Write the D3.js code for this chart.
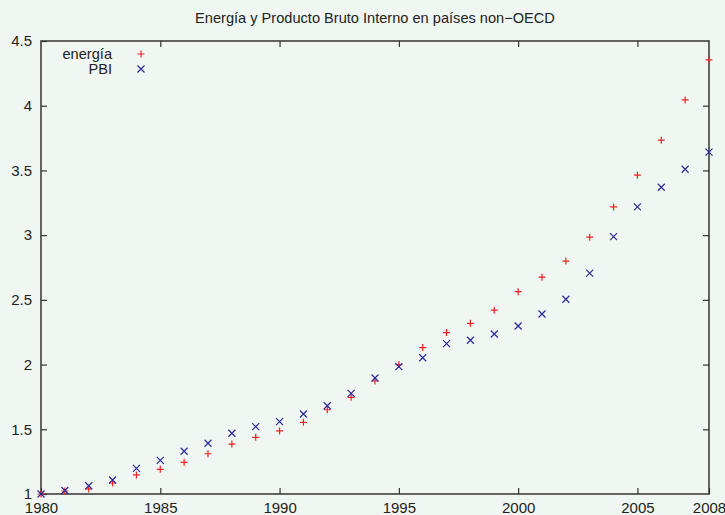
<!DOCTYPE html>
<html>
<head>
<meta charset="utf-8">
<script src="https://cdn.jsdelivr.net/npm/d3@7"></script>
<style>
	body { margin: 0; background: #f0f7f2; }
	svg text { font-family: "Liberation Sans", Arial, sans-serif; fill: #222; }
</style>
</head>
<body>
<svg id="viz"></svg>
<script>
/* data */
var years = d3.range(1980, 2009);
var energia = [1.0, 1.023, 1.039, 1.085, 1.147, 1.191, 1.245, 1.311, 1.386, 1.438,
	1.487, 1.554, 1.651, 1.747, 1.873, 2.0, 2.131, 2.247, 2.319, 2.42,
	2.563, 2.675, 2.80, 2.984, 3.218, 3.463, 3.734, 4.045, 4.354];
var pbi = [1.0, 1.027, 1.064, 1.108, 1.198, 1.26, 1.33, 1.392, 1.469, 1.52,
	1.559, 1.618, 1.682, 1.778, 1.896, 1.984, 2.053, 2.162, 2.188, 2.236,
	2.298, 2.391, 2.505, 2.706, 2.988, 3.218, 3.37, 3.509, 3.641];
var xTicks = [1980, 1985, 1990, 1995, 2000, 2005, 2008];
var yTicks = [1, 1.5, 2, 2.5, 3, 3.5, 4, 4.5];

/* create svg */
var W = 725, H = 515;
var margin = { top: 41, right: 16, bottom: 21, left: 41 },
	width = W - margin.left - margin.right,
	height = H - margin.top - margin.bottom;

var svg = d3.select('#viz')
	.attr('width', W)
	.attr('height', H);

svg.append('rect')
	.attr('width', W).attr('height', H)
	.attr('fill', '#f0f7f2');

var g = svg.append('g')
	.attr('transform', 'translate(' + margin.left + ',' + margin.top + ')');

var x = d3.scaleLinear()
	.domain([1980, 2008])
	.range([0, width]);

var y = d3.scaleLinear()
	.domain([1, 4.5])
	.range([height, 0]);

var tickLen = 6;

// bottom axis with labels, ticks drawn inward
var xAxis = d3.axisBottom(x)
	.tickValues(xTicks)
	.tickFormat(d3.format('d'))
	.tickSizeInner(-tickLen)
	.tickSizeOuter(0)
	.tickPadding(8);

var yAxis = d3.axisLeft(y)
	.tickValues(yTicks)
	.tickFormat(function(d){ return d3.format('')(d); })
	.tickSizeInner(-tickLen)
	.tickSizeOuter(0)
	.tickPadding(9);

var styleAxis = function(sel){
	sel.select('.domain').remove();
	sel.selectAll('.tick line').attr('stroke', '#333').attr('stroke-width', 1.2);
	sel.selectAll('.tick text')
		.attr('font-size', 15)
		.attr('font-family', '"Liberation Sans", Arial, sans-serif')
		.attr('fill', '#222');
}

g.append('g')
	.attr('transform', 'translate(0,' + height + ')')
	.call(xAxis)
	.call(styleAxis);

g.append('g')
	.call(yAxis)
	.call(styleAxis);

// mirrored ticks on top and right, no labels
g.append('g')
	.call(d3.axisTop(x).tickValues(xTicks.slice(1, -1)).tickSizeInner(-tickLen).tickSizeOuter(0).tickFormat(''))
	.call(styleAxis);

g.append('g')
	.attr('transform', 'translate(' + width + ',0)')
	.call(d3.axisRight(y).tickValues(yTicks.slice(1, -1)).tickSizeInner(-tickLen).tickSizeOuter(0).tickFormat(''))
	.call(styleAxis);

// border
g.append('rect')
	.attr('width', width).attr('height', height)
	.attr('fill', 'none')
	.attr('stroke', '#333')
	.attr('stroke-width', 1.5);

// title
svg.append('text')
	.attr('x', margin.left + width / 2)
	.attr('y', 23)
	.attr('text-anchor', 'middle')
	.attr('font-size', 14.6)
	.text('Energía y Producto Bruto Interno en países non\u2212OECD');

var s = 3.5;
var plusPath = function(cx, cy){
	return 'M' + (cx - s) + ',' + cy + 'H' + (cx + s) + 'M' + cx + ',' + (cy - s) + 'V' + (cy + s);
}
var crossPath = function(cx, cy){
	return 'M' + (cx - s) + ',' + (cy - s) + 'L' + (cx + s) + ',' + (cy + s) +
		'M' + (cx - s) + ',' + (cy + s) + 'L' + (cx + s) + ',' + (cy - s);
}

var series = [
	{ name: 'energía', values: energia, color: '#ee2222', shape: plusPath },
	{ name: 'PBI', values: pbi, color: '#2a2a9a', shape: crossPath }
];

series.forEach(function(ser){
	g.append('g')
		.selectAll('path')
		.data(ser.values)
		.enter().append('path')
		.attr('d', function(d, i){ return ser.shape(x(years[i]), y(d)); })
		.attr('stroke', ser.color)
		.attr('stroke-width', 1.2)
		.attr('fill', 'none');
});

// legend
var legend = svg.append('g');
series.forEach(function(ser, i){
	var ly = 54 + i * 15;
	legend.append('text')
		.attr('x', 112)
		.attr('y', ly + 5)
		.attr('text-anchor', 'end')
		.attr('font-size', 14.6)
		.text(ser.name);
	legend.append('path')
		.attr('d', ser.shape(141, ly))
		.attr('stroke', ser.color)
		.attr('stroke-width', 1.2)
		.attr('fill', 'none');
});
</script>
</body>
</html>
